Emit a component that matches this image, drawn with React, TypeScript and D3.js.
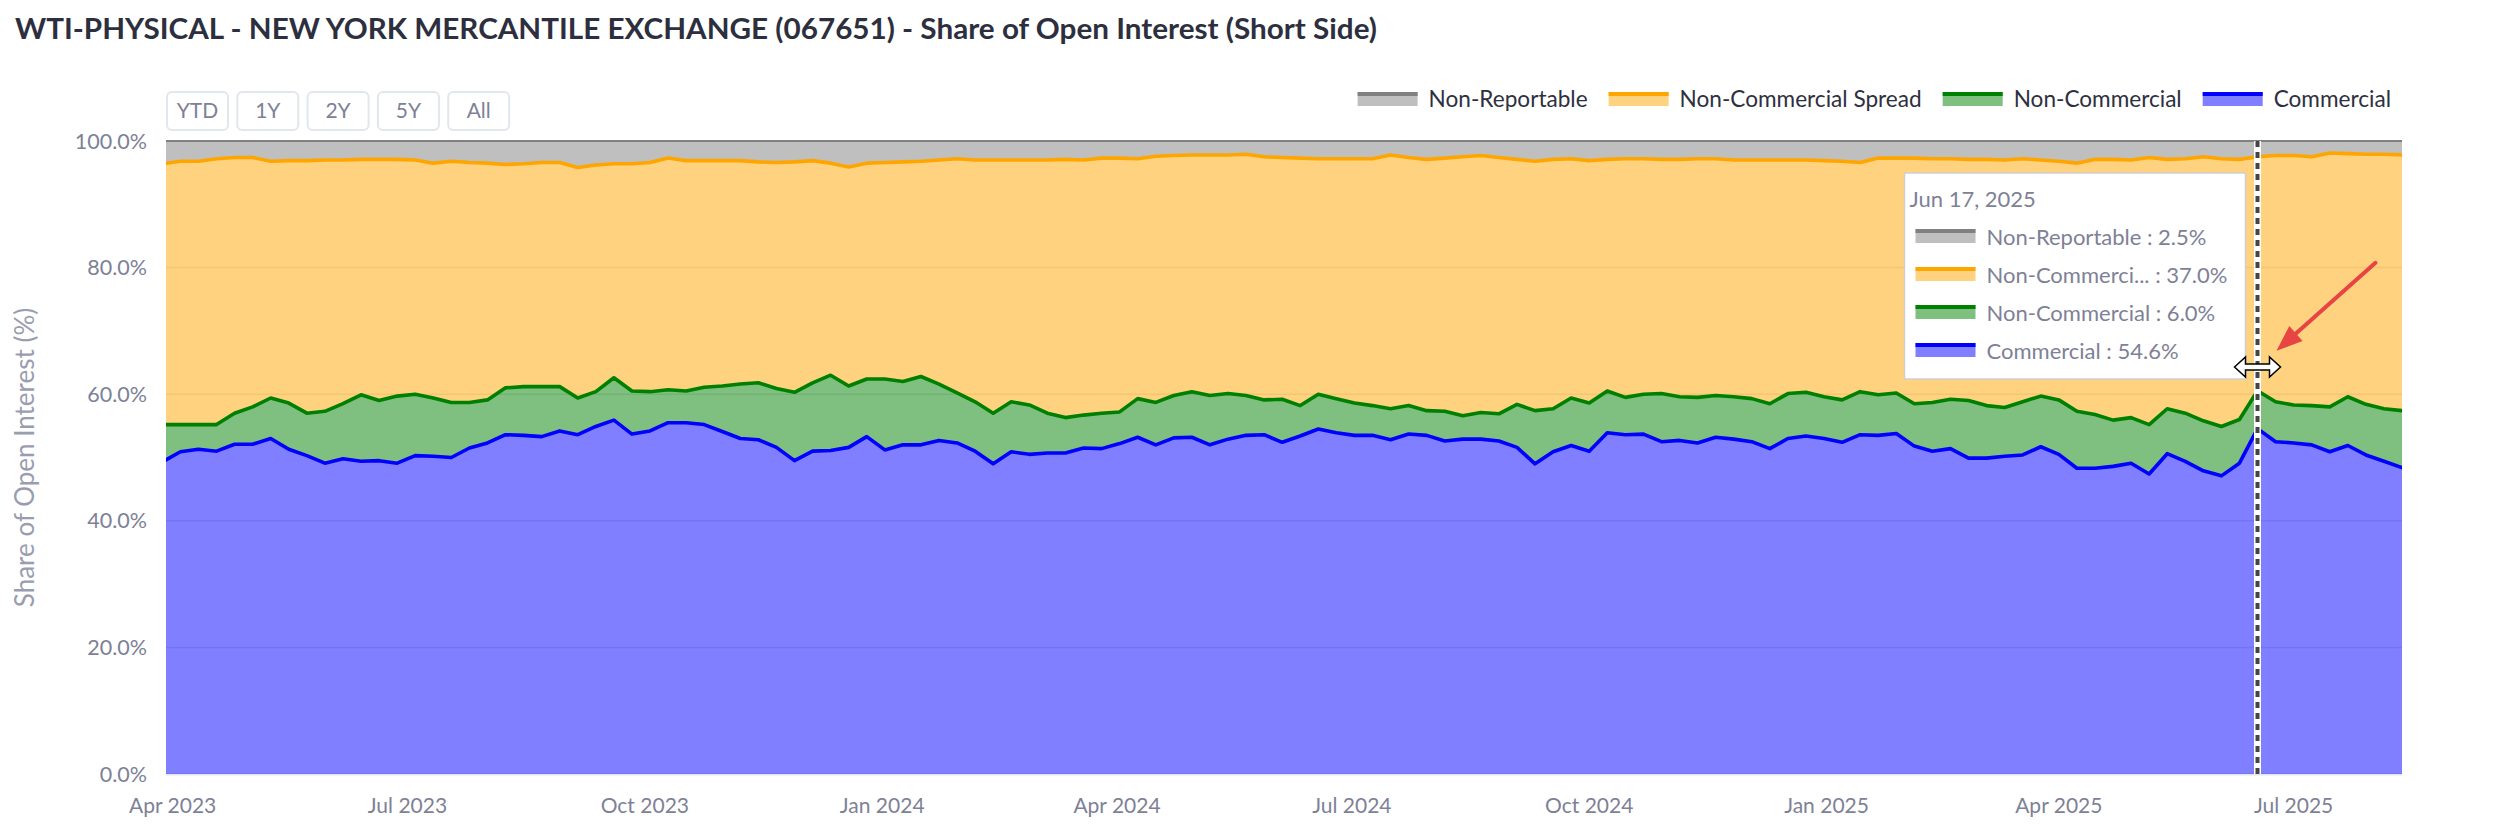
import { useMemo } from "react"
import * as d3 from "d3"

// weekly COT report dates (Tuesdays), Mar 28 2023 .. Aug 12 2025
const reportDates = d3.timeTuesday.range(new Date(2023, 2, 28), new Date(2025, 7, 13))

// share of open interest, short side (%)
const commercial = [
  49.3, 50.9, 51.3, 51.0, 52.1, 52.1, 53.0, 51.3, 50.3, 49.1,
  49.8, 49.4, 49.5, 49.1, 50.3, 50.2, 50.0, 51.5, 52.3, 53.6,
  53.5, 53.3, 54.2, 53.6, 54.9, 55.9, 53.7, 54.2, 55.5, 55.5,
  55.2, 54.1, 53.0, 52.8, 51.6, 49.5, 51.0, 51.1, 51.6, 53.3,
  51.2, 52.0, 52.0, 52.7, 52.3, 51.0, 49.0, 50.9, 50.5, 50.7,
  50.7, 51.5, 51.4, 52.2, 53.2, 52.0, 53.1, 53.2, 52.0, 52.9,
  53.5, 53.6, 52.4, 53.4, 54.5, 53.9, 53.5, 53.5, 52.8, 53.7,
  53.5, 52.6, 52.9, 52.9, 52.6, 51.6, 49.0, 50.9, 51.9, 51.0,
  53.9, 53.6, 53.7, 52.5, 52.7, 52.3, 53.2, 52.9, 52.5, 51.4,
  53.0, 53.4, 53.0, 52.4, 53.6, 53.5, 53.8, 51.8, 51.0, 51.4,
  49.9, 49.9, 50.2, 50.4, 51.7, 50.5, 48.3, 48.3, 48.6, 49.1,
  47.4, 50.6, 49.4, 47.9, 47.1, 49.1, 54.56, 52.5, 52.3, 52.0,
  50.9, 51.9, 50.4, 49.4, 48.4,
]
const nonCommercial = [
  5.9, 4.3, 3.9, 4.2, 4.9, 5.9, 6.4, 7.3, 6.7, 8.2,
  8.7, 10.5, 9.5, 10.6, 9.7, 9.2, 8.7, 7.2, 6.8, 7.4,
  7.7, 7.9, 7.0, 5.8, 5.5, 6.7, 6.8, 6.2, 5.2, 5.0,
  5.9, 7.2, 8.6, 9.0, 9.3, 10.8, 10.8, 11.9, 9.7, 9.1,
  11.2, 10.0, 10.8, 8.9, 7.9, 7.8, 8.0, 7.9, 7.8, 6.3,
  5.6, 5.2, 5.6, 5.0, 6.1, 6.7, 6.7, 7.2, 7.8, 7.2,
  6.3, 5.5, 6.8, 4.8, 5.5, 5.4, 5.1, 4.7, 4.9, 4.5,
  3.9, 4.7, 3.7, 4.2, 4.3, 6.8, 8.4, 6.8, 7.5, 7.6,
  6.6, 5.9, 6.3, 7.6, 6.9, 7.2, 6.6, 6.7, 6.8, 7.1,
  7.1, 6.9, 6.6, 6.7, 6.8, 6.4, 6.4, 6.7, 7.7, 7.8,
  9.1, 8.3, 7.7, 8.4, 8.0, 8.6, 9.0, 8.5, 7.3, 7.2,
  7.8, 7.1, 7.6, 7.9, 7.8, 6.9, 5.98, 6.3, 6.0, 6.2,
  7.1, 7.7, 8.0, 8.3, 9.0,
]
const nonCommercialSpread = [
  41.2, 41.6, 41.6, 42.0, 40.4, 39.4, 37.4, 38.3, 39.9, 39.7,
  38.5, 37.2, 38.1, 37.4, 37.0, 37.1, 38.1, 37.9, 37.4, 35.3,
  35.2, 35.4, 35.4, 36.4, 35.8, 33.8, 35.9, 36.2, 36.6, 36.4,
  35.8, 35.6, 35.3, 34.9, 35.7, 36.4, 35.1, 33.5, 34.6, 34.1,
  34.2, 34.7, 34.0, 35.4, 37.0, 38.2, 40.0, 38.2, 38.7, 40.0,
  40.8, 40.3, 40.3, 40.1, 37.9, 38.9, 37.9, 37.4, 38.0, 37.7,
  38.1, 38.4, 38.2, 39.1, 37.2, 37.9, 38.6, 39.0, 40.1, 39.2,
  39.7, 40.0, 40.9, 40.6, 40.5, 38.7, 39.4, 39.4, 37.8, 38.3,
  36.6, 37.7, 37.2, 37.0, 37.5, 37.7, 37.4, 37.4, 37.7, 38.5,
  36.9, 36.7, 37.3, 37.7, 36.2, 37.4, 37.1, 38.8, 38.5, 38.0,
  38.1, 38.9, 39.1, 38.4, 37.3, 37.7, 39.2, 40.3, 41.2, 40.7,
  42.2, 39.4, 40.2, 41.7, 42.3, 41.1, 36.98, 38.9, 39.4, 39.3,
  40.1, 38.4, 39.5, 40.2, 40.4,
]
const nonReportable = [
  3.6, 3.2, 3.2, 2.8, 2.6, 2.6, 3.2, 3.1, 3.1, 3.0,
  3.0, 2.9, 2.9, 2.9, 3.0, 3.5, 3.2, 3.4, 3.5, 3.7,
  3.6, 3.4, 3.4, 4.2, 3.8, 3.6, 3.6, 3.4, 2.7, 3.1,
  3.1, 3.1, 3.1, 3.3, 3.4, 3.3, 3.1, 3.5, 4.1, 3.5,
  3.4, 3.3, 3.2, 3.0, 2.8, 3.0, 3.0, 3.0, 3.0, 3.0,
  2.9, 3.0, 2.7, 2.7, 2.8, 2.4, 2.3, 2.2, 2.2, 2.2,
  2.1, 2.5, 2.6, 2.7, 2.8, 2.8, 2.8, 2.8, 2.2, 2.6,
  2.9, 2.7, 2.5, 2.3, 2.6, 2.9, 3.2, 2.9, 2.8, 3.1,
  2.9, 2.8, 2.8, 2.9, 2.9, 2.8, 2.8, 3.0, 3.0, 3.0,
  3.0, 3.0, 3.1, 3.2, 3.4, 2.7, 2.7, 2.7, 2.8, 2.8,
  2.9, 2.9, 3.0, 2.8, 3.0, 3.2, 3.5, 2.9, 2.9, 3.0,
  2.6, 2.9, 2.8, 2.5, 2.8, 2.9, 2.48, 2.3, 2.3, 2.5,
  1.9, 2.0, 2.1, 2.1, 2.2,
]

// stacking order, bottom to top
const seriesKeys = ["commercial", "nonCommercial", "nonCommercialSpread", "nonReportable"]
const seriesNames = ["Commercial", "Non-Commercial", "Non-Commercial Spread", "Non-Reportable"]
const seriesColors = ["#0000ff", "#008000", "#ffa500", "#808080"]

const rangeButtons = ["YTD", "1Y", "2Y", "5Y", "All"]
const hoverDate = new Date(2025, 5, 17)

const TITLE = "WTI-PHYSICAL - NEW YORK MERCANTILE EXCHANGE (067651) - Share of Open Interest (Short Side)"
const FONT = "Lato, 'Source Sans Pro', 'Noto Sans', sans-serif"

const W = 2495
const H = 840
const plot = { left: 166, right: 2402, top: 141, bottom: 774 }

function measure(text: string, font: string) {
  const ctx = document.createElement("canvas").getContext("2d")
  if (!ctx) return text.length * 11
  ctx.font = font
  return ctx.measureText(text).width
}

export default function App() {
  const rows = useMemo(
    () =>
      reportDates.map((date, i) => ({
        date,
        commercial: commercial[i],
        nonCommercial: nonCommercial[i],
        nonCommercialSpread: nonCommercialSpread[i],
        nonReportable: nonReportable[i],
      })),
    [],
  )

  const stacked = useMemo(() => d3.stack<any>().keys(seriesKeys).offset(d3.stackOffsetExpand)(rows), [rows])

  // the visible window starts a little after the first report
  const x = d3
    .scaleTime()
    .domain([new Date(2023, 2, 29, 10), new Date(2025, 7, 12)])
    .range([plot.left, plot.right])
  const y = d3.scaleLinear().domain([0, 1]).range([plot.bottom, plot.top])

  const area = d3
    .area<any>()
    .x((d) => x(d.data.date))
    .y0((d) => y(d[0]))
    .y1((d) => y(d[1]))
  const line = d3
    .line<any>()
    .x((d) => x(d.data.date))
    .y((d) => y(d[1]))

  const yTicks = [0, 0.2, 0.4, 0.6, 0.8, 1]
  const xTicks = d3.timeMonth.every(3)!.range(new Date(2023, 3, 1), new Date(2025, 7, 13))
  const fmtPct = d3.format(".1%")
  const fmtTick = d3.timeFormat("%b %Y")

  // legend, right aligned, top to bottom order of the stack
  const legendOrder = [3, 2, 1, 0]
  const legendSize = 22.6
  const legendFont = `${legendSize}px ${FONT}`
  const legendWidths = legendOrder.map((k) => measure(seriesNames[k], legendFont))
  const legendTotal = d3.sum(legendWidths) + legendOrder.length * 71 + (legendOrder.length - 1) * 21
  let lx = 2391 - legendTotal
  const legendItems = legendOrder.map((k, j) => {
    const item = { k, x: lx }
    lx += 71 + legendWidths[j] + 21
    return item
  })

  // hovered point
  const hi = reportDates.findIndex((d) => +d === +hoverDate)
  const hx = x(reportDates[hi])
  const hyGreen = y(stacked[1][hi][1])
  const tipRight = hx - 12
  const tipLeft = tipRight - 341
  const tipTop = 173
  const fmtDate = d3.timeFormat("%b %d, %Y")
  const shortName = (s: string) => (s.length > 16 ? s.slice(0, 12) + "..." : s)

  // red pointer arrow
  const tail = [hx + 118, hyGreen - 128]
  const tip = [hx + 19, hyGreen - 40]
  const ang = Math.atan2(tip[1] - tail[1], tip[0] - tail[0])
  const headLen = 26
  const headW = 10
  const base = [tip[0] - headLen * Math.cos(ang), tip[1] - headLen * Math.sin(ang)]
  const head = [
    tip,
    [base[0] + headW * Math.sin(ang), base[1] - headW * Math.cos(ang)],
    [base[0] - headW * Math.sin(ang), base[1] + headW * Math.cos(ang)],
  ]

  const cy = 367
  const cursor = `M${hx - 23},${cy} L${hx - 12},${cy - 10} L${hx - 12},${cy - 3} L${hx + 12},${cy - 3} L${hx + 12},${cy - 10} L${hx + 23},${cy} L${hx + 12},${cy + 10} L${hx + 12},${cy + 3} L${hx - 12},${cy + 3} L${hx - 12},${cy + 10} Z`

  return (
    <svg
      width={W}
      height={H}
      style={{ position: "absolute", left: 0, top: 0, background: "#fff" }}
      fontFamily={FONT}
    >
      <defs>
        <clipPath id="plot-clip">
          <rect x={plot.left} y={plot.top - 2} width={plot.right - plot.left} height={plot.bottom - plot.top + 2} />
        </clipPath>
      </defs>

      <text x={15} y={39} fontSize={28} fontWeight={700} fill="#2d2f3e" textLength={1362} lengthAdjust="spacingAndGlyphs">
        {TITLE}
      </text>

      {/* range buttons */}
      {rangeButtons.map((b, i) => (
        <g key={b} transform={`translate(${167 + i * 70.3},92)`}>
          <rect x={0} y={0} width={61} height={38} rx={5} fill="#fff" stroke="#e2e6ed" strokeWidth={2} />
          <text x={30.5} y={19} dy="0.35em" textAnchor="middle" fontSize={21} fill="#7e8196">
            {b}
          </text>
        </g>
      ))}

      {/* legend */}
      {legendItems.map(({ k, x: ix }) => (
        <g key={k} transform={`translate(${ix},92)`}>
          <rect x={0} y={0} width={60} height={14} fill={seriesColors[k]} fillOpacity={0.5} />
          <rect x={0} y={0} width={60} height={4} fill={seriesColors[k]} />
          <text x={71} y={15.3} fontSize={legendSize} fill="#2e3040">
            {seriesNames[k]}
          </text>
        </g>
      ))}

      {/* grid */}
      {yTicks.map((t) => (
        <line key={t} x1={plot.left} x2={plot.right} y1={y(t)} y2={y(t)} stroke="#e6e6e6" strokeWidth={1.5} />
      ))}

      {/* stacked areas and their top lines */}
      <g clipPath="url(#plot-clip)">
        {stacked.map((s, k) => (
          <path key={`a${k}`} d={area(s) ?? ""} fill={seriesColors[k]} fillOpacity={0.5} />
        ))}
        {stacked.map((s, k) => (
          <path
            key={`l${k}`}
            d={line(s) ?? ""}
            fill="none"
            stroke={seriesColors[k]}
            strokeWidth={k === 3 ? 2.2 : 3.6}
            strokeLinejoin="round"
            strokeLinecap="round"
          />
        ))}
      </g>
      <line x1={plot.left} x2={plot.right} y1={plot.bottom + 0.8} y2={plot.bottom + 0.8} stroke="#e3e6ee" strokeWidth={1.5} />

      {/* y axis */}
      {yTicks.map((t) => (
        <text key={t} x={147} y={y(t)} dy="0.35em" textAnchor="end" fontSize={21.5} fill="#7e8196">
          {fmtPct(t)}
        </text>
      ))}
      <text
        transform={`translate(34,${(plot.top + plot.bottom) / 2}) rotate(-90)`}
        textAnchor="middle"
        fontSize={26}
        fill="#9a9db0"
      >
        Share of Open Interest (%)
      </text>

      {/* x axis */}
      {xTicks.map((t) => (
        <text key={+t} x={x(t)} y={813} textAnchor="middle" fontSize={21} fill="#7e8196">
          {fmtTick(t)}
        </text>
      ))}

      {/* crosshair */}
      <rect x={hx - 3.5} y={plot.top} width={7} height={plot.bottom - plot.top} fill="#fff" />
      <line x1={hx} x2={hx} y1={plot.top} y2={plot.bottom} stroke="#444" strokeWidth={4} strokeDasharray="6 5" />

      {/* tooltip */}
      <g>
        <rect x={tipLeft} y={tipTop} width={341} height={206} fill="#fff" stroke="#cfcfcf" strokeWidth={1.5} />
        <text x={tipLeft + 5} y={tipTop + 33.5} fontSize={22} fill="#7e8196">
          {fmtDate(hoverDate)}
        </text>
        {legendOrder.map((k, r) => {
          const v = [commercial, nonCommercial, nonCommercialSpread, nonReportable][k][hi]
          return (
            <g key={k} transform={`translate(${tipLeft + 11},${tipTop + 56 + r * 38})`}>
              <rect x={0} y={0} width={60} height={14} fill={seriesColors[k]} fillOpacity={0.5} />
              <rect x={0} y={0} width={60} height={4} fill={seriesColors[k]} />
              <text x={71} y={16} fontSize={22} fill="#7e8196">
                {`${shortName(seriesNames[k])} : ${v.toFixed(1)}%`}
              </text>
            </g>
          )
        })}
      </g>

      {/* mouse cursor */}
      <path d={cursor} fill="#fff" stroke="#000" strokeWidth={1.5} strokeLinejoin="miter" />

      {/* red pointer */}
      <line x1={tail[0]} y1={tail[1]} x2={base[0]} y2={base[1]} stroke="#e84444" strokeWidth={4} strokeLinecap="round" />
      <polygon points={head.map((p) => p.join(",")).join(" ")} fill="#e84444" />
    </svg>
  )
}
